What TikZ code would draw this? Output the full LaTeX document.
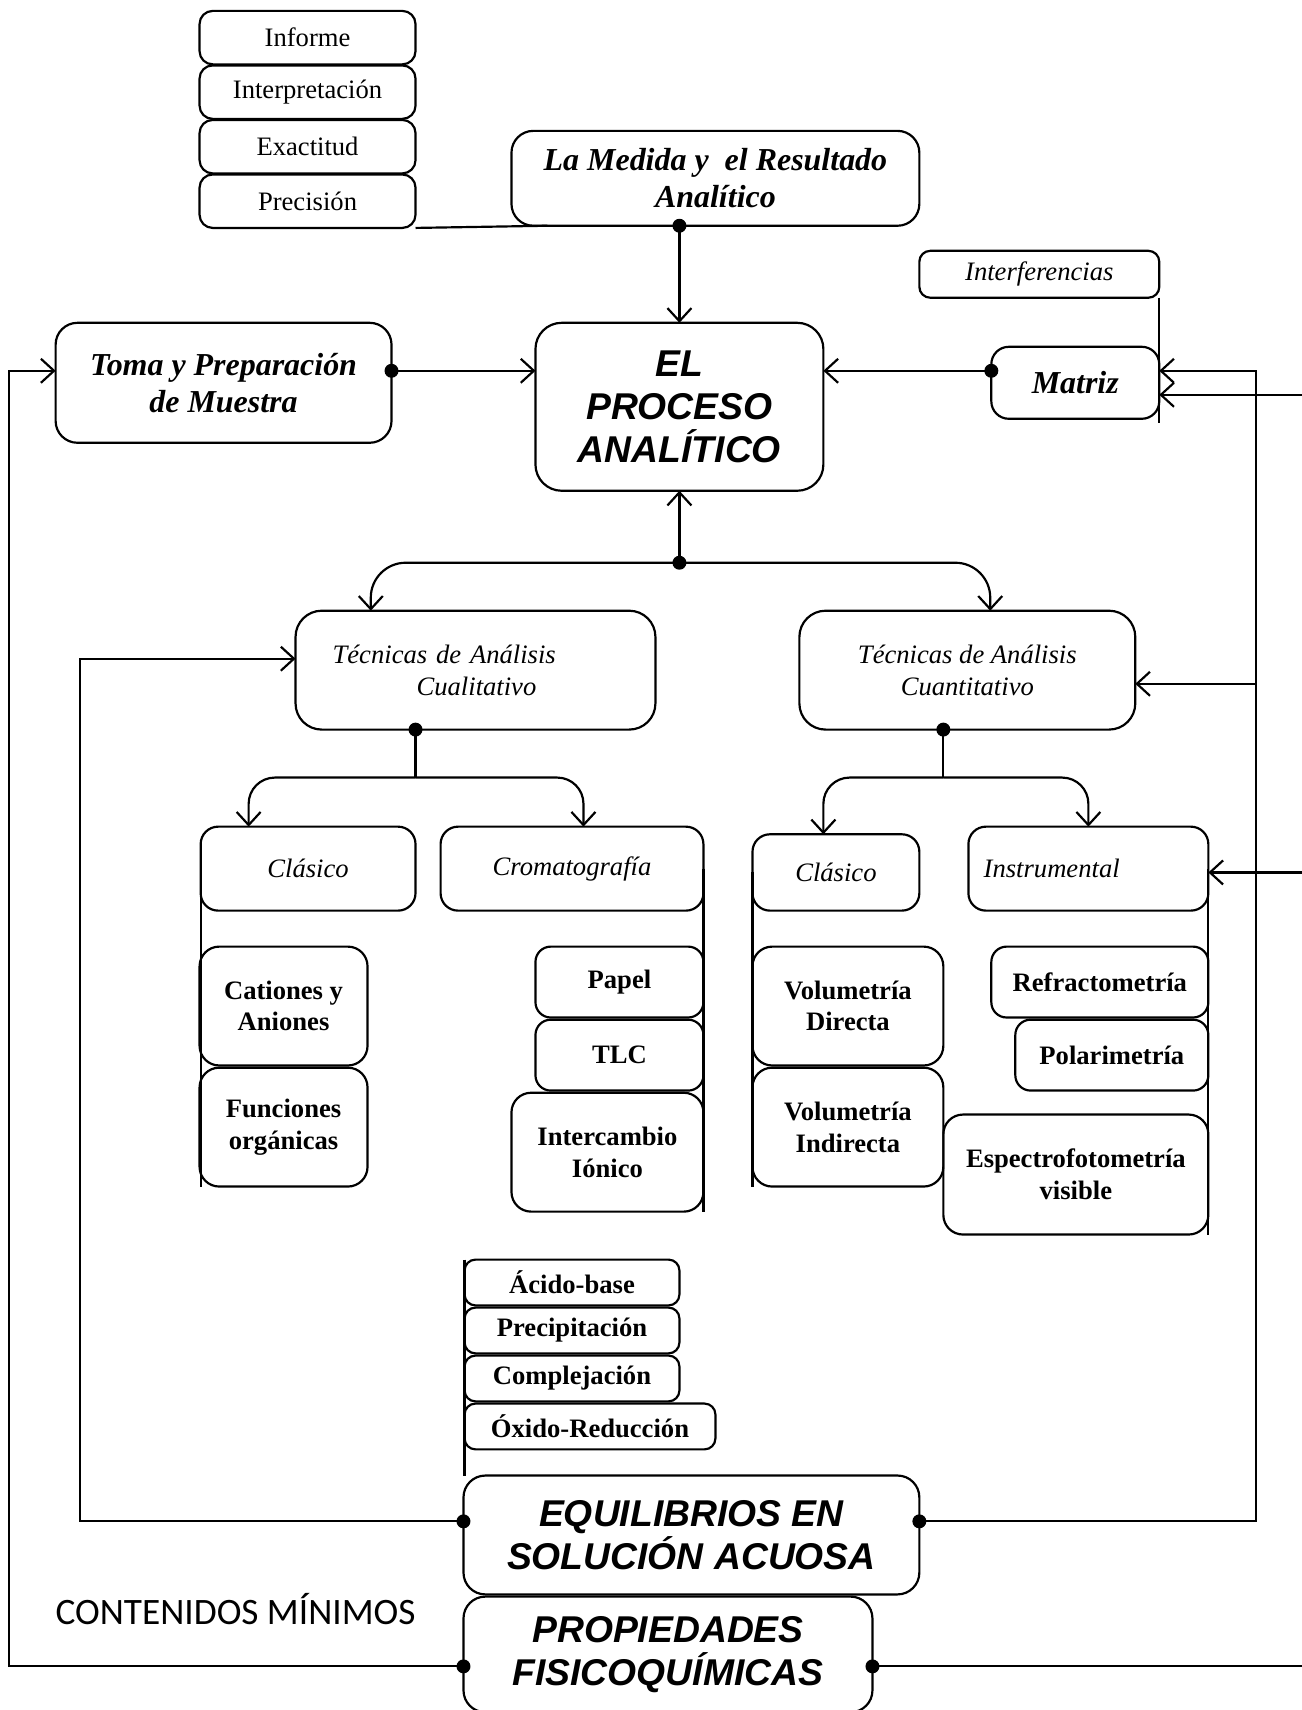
\documentclass[tikz,border=0pt]{standalone}
\usepackage{fontspec}
\setmainfont{Liberation Serif}
\setsansfont{Liberation Sans}
\newfontfamily\calibri{Carlito}
\usetikzlibrary{positioning,arrows.meta}

\begin{document}
\begin{tikzpicture}[x=0.5pt,y=-0.5pt,line width=1pt,>={Straight Barb[length=6pt,width=11pt]},
	box/.style={draw,rounded corners=6pt,line width=1pt,align=center,inner sep=2pt,outer sep=0pt,font=\fontsize{12.2}{14.5}\selectfont},
	stack/.style={box,minimum width=99pt,minimum height=24.5pt},
	title/.style={box,rounded corners=10pt,font=\fontsize{14.65}{16.8}\selectfont\bfseries\itshape},
	big/.style={box,rounded corners=12pt,font=\fontsize{17.1}{19.8}\selectfont\sffamily\bfseries\itshape},
	tech/.style={box,rounded corners=8pt,font=\fontsize{12.2}{14.5}\selectfont\itshape},
	leaf/.style={box,rounded corners=9pt,font=\fontsize{12.2}{14.5}\selectfont\bfseries},
	thin/.style={leaf,rounded corners=5pt,minimum height=21pt},]
		\useasboundingbox (0,0) rectangle (1193,1568);
		% create the nodes
		\node (inf) [stack] at (282,34.5) {Informe};
		\node (interp) [stack, below=0.5pt of inf] {Interpretación};
		\node (exact) [stack, below=0.5pt of interp] {Exactitud};
		\node (prec) [stack, below=0.5pt of exact] {Precisión};
		
		\node (medida) [title, minimum width=187pt, minimum height=43.5pt] at (656,163.5) {La Medida y~ el Resultado\\Analítico};
		\node (proceso) [big, minimum width=132pt, minimum height=77pt] at (623,373) {EL\\PROCESO\\ANALÍTICO};
		\node (toma) [title, minimum width=154pt, minimum height=55pt, font=\fontsize{14.65}{17}\selectfont\bfseries\itshape] at (205,351) {Toma y Preparación\\de Muestra};
		\node (interf) [tech, rounded corners=5pt, minimum width=110pt, minimum height=21.5pt] at (953,251.5) {Interferencias};
		\node (matriz) [title, rounded corners=8pt, minimum width=77pt, minimum height=33pt] at (986,351) {Matriz};
		
		\node (cuali) [tech, rounded corners=12pt, minimum height=54.5pt, text width=131pt, inner xsep=17pt, align=left] at (436,614.5) {Técnicas de Análisis\\\hspace*{38.5pt}Cualitativo};
		\node (cuanti) [tech, rounded corners=12pt, minimum width=154pt, minimum height=54.5pt] at (887,614.5) {Técnicas de Análisis\\Cuantitativo};
		
		\node (clasA) [tech, minimum width=98.5pt, minimum height=38.5pt] at (282.5,796.5) {Clásico};
		\node (croma) [tech, minimum width=120.5pt, minimum height=38.5pt] at (524.5,796.5) {Cromatografía};
		\node (clasB) [tech, minimum width=76.5pt, minimum height=35pt] at (766.5,800) {Clásico};
		\node (instr) [tech, minimum height=38.5pt, text width=96pt, inner xsep=7pt, align=left] at (998,796.5) {Instrumental};
		
		\node (cationes) [leaf, minimum width=77pt, minimum height=54.5pt] at (260,922.5) {Cationes y\\Aniones};
		\node (funciones) [leaf, minimum width=77pt, minimum height=54.5pt, below=1pt of cationes] {Funciones\\orgánicas};
		\node (papel) [leaf, rounded corners=7pt, minimum width=77pt, minimum height=32.5pt] at (568,900.5) {Papel};
		\node (tlc) [leaf, rounded corners=7pt, minimum width=77pt, minimum height=32.5pt, below=1pt of papel] {TLC};
		\node (interc) [leaf, minimum width=88pt, minimum height=54.5pt, below=1pt of tlc.south east, anchor=north east] {Intercambio\\Iónico};
		\node (volD) [leaf, minimum width=87.5pt, minimum height=54.5pt] at (777.5,922.5) {Volumetría\\Directa};
		\node (volI) [leaf, minimum width=87.5pt, minimum height=54.5pt, below=1pt of volD] {Volumetría\\Indirecta};
		\node (refr) [leaf, rounded corners=7pt, minimum width=99.5pt, minimum height=32.5pt] at (1008.5,900.5) {Refractometría};
		\node (polar) [leaf, rounded corners=7pt, minimum width=88.5pt, minimum height=32.5pt, below=1pt of refr.south east, anchor=north east] {Polarimetría};
		\node (espec) [leaf, minimum width=121.5pt, minimum height=55pt] at (986.5,1077) {Espectrofotometría\\visible};
		
		\node (acido) [thin, minimum width=98.5pt] at (524.5,1176) {Ácido-base};
		\node (precip) [thin, minimum width=98.5pt, below=1pt of acido] {Precipitación};
		\node (complej) [thin, minimum width=98.5pt, below=1pt of precip] {Complejación};
		\node (oxido) [thin, minimum width=115pt, below=1pt of complej.south west, anchor=north west] {Óxido-Reducción};
		
		\node (equi) [big, rounded corners=10pt, minimum width=209pt, minimum height=54.5pt] at (634,1407.5) {EQUILIBRIOS EN\\SOLUCIÓN ACUOSA};
		\node (prop) [big, rounded corners=10pt, minimum width=187.5pt, minimum height=53pt] at (612.5,1517) {PROPIEDADES\\FISICOQUÍMICAS};
		\node (cont) [font=\calibri\fontsize{17.1}{20}\selectfont] at (216,1475) {CONTENIDOS MÍNIMOS};
		
		% points where the lines leave the boxes
		\coordinate (dMed) at (medida.south -| proceso.north);
		\coordinate (dToma) at ([yshift=5.5pt]toma.east);
		\coordinate (dMat) at ([yshift=5.5pt]matriz.west);
		\coordinate (hub) at ([yshift=-33pt]proceso.south);
		\coordinate (dCuali) at ([xshift=-27.5pt]cuali.south);
		\coordinate (hubA) at ([yshift=-22pt]dCuali);
		\coordinate (dCuanti) at ([xshift=-11pt]cuanti.south);
		\coordinate (hubB) at ([yshift=-22pt]dCuanti);
		\coordinate (dEqL) at ([yshift=6.25pt]equi.west);
		\coordinate (dEqR) at ([yshift=6.25pt]equi.east);
		\coordinate (dPrL) at ([yshift=-5.5pt]prop.west);
		\coordinate (dPrR) at ([yshift=-5.5pt]prop.east);
		
		% connect the nodes
		\draw (prec.south east) -- ([xshift=16.5pt]medida.south west);
		\draw[->] (dMed) -- (proceso.north);
		\draw[->] (dToma) -- (dToma -| proceso.west);
		\draw[->] (dMat) -- (dMat -| proceso.east);
		\draw (interf.south east) -- ([yshift=-2pt]matriz.south east);
		
		\draw[->] (hub) -- (proceso.south);
		\draw[->,rounded corners=16pt] (hub) -| ([xshift=-48pt]cuali.north);
		\draw[->,rounded corners=16pt] (hub) -| ([xshift=10.5pt]cuanti.north);
		
		\draw (dCuali) -- (hubA);
		\draw[->,rounded corners=12pt] (hubA) -| ([xshift=-27.25pt]clasA.north);
		\draw[->,rounded corners=12pt] (hubA) -| ([xshift=5.25pt]croma.north);
		\draw (dCuanti) -- (hubB);
		\draw[->,rounded corners=12pt] (hubB) -| ([xshift=-5.75pt]clasB.north);
		\draw[->,rounded corners=12pt] (hubB) -| (instr.north);
		
		\draw (clasA.west) -- (clasA.west |- funciones.south);
		\draw (croma.east) -- (croma.east |- interc.south);
		\draw (clasB.west) -- (clasB.west |- volI.south);
		\draw (instr.east) -- (instr.east |- espec.south);
		\draw (acido.north west) -- (acido.north west |- equi.north);
		
		\draw[->] (dEqR) -| ([xshift=44.5pt]dMat -| matriz.east) -- (dMat -| matriz.east);
		\draw[->] ([xshift=55.5pt,yshift=-6.25pt]cuanti.east) -- ([yshift=-6.25pt]cuanti.east);
		\draw[->] ([xshift=70pt,yshift=-5.5pt]matriz.east) -- ([yshift=-5.5pt]matriz.east);
		\draw[->] ([xshift=46pt,yshift=-1.75pt]instr.east) -- ([yshift=-1.75pt]instr.east);
		\draw (dPrR) -- ([xshift=220pt]dPrR);
		\draw[->] (dPrL) -| ([xshift=-21.5pt]dToma -| toma.west) -- (dToma -| toma.west);
		\draw[->] (dEqL) -| ([xshift=-99pt,yshift=5.25pt]cuali.west) -- ([yshift=5.25pt]cuali.west);
		
		\foreach \p in {dMed,dToma,dMat,hub,dCuali,dCuanti,dEqL,dEqR,dPrL,dPrR}
			\fill (\p) circle (3.2pt);
	\end{tikzpicture}
\end{document}
